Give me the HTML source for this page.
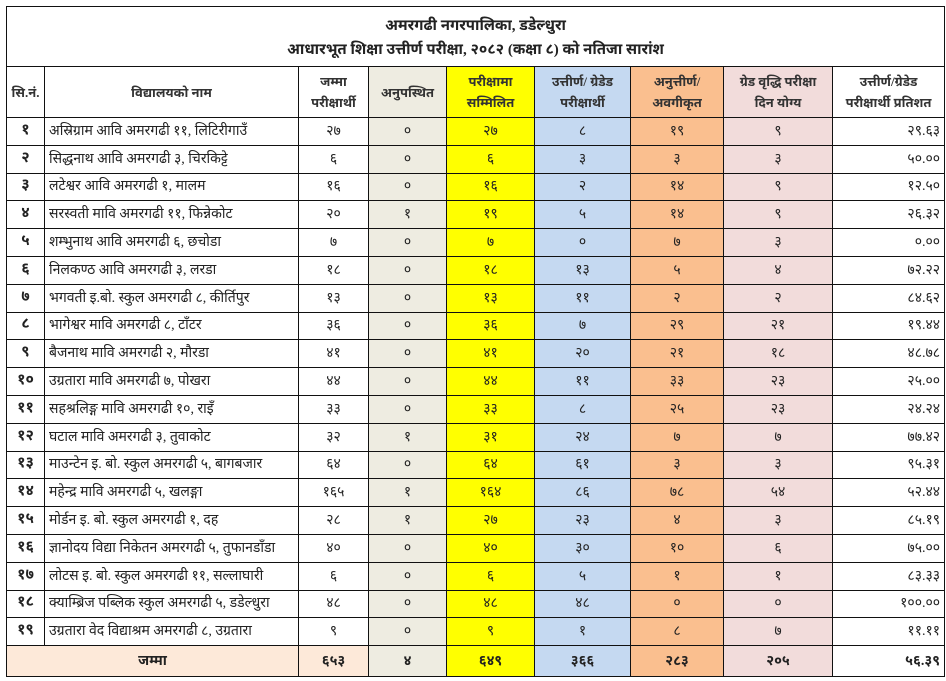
<!DOCTYPE html>
<html>
<head>
<meta charset="utf-8">
<style>
  html, body { margin:0; padding:0; background:#fff; }
  body { width:946px; height:681px; position:relative; overflow:hidden;
         font-family:"Liberation Serif","Noto Sans Devanagari","Lohit Devanagari","FreeSerif","DejaVu Sans",serif; color:#222; }
  table { position:absolute; left:6px; top:6px; border-collapse:collapse; table-layout:fixed; width:938px; }
  td { border:1px solid #111; padding:0; font-size:14px; text-align:center; vertical-align:middle; overflow:hidden; white-space:nowrap; }
  tr.title td { height:57px; font-weight:bold; font-size:15px; line-height:24px; padding-top:2px; }
  tr.head td { height:50px; font-size:13px; line-height:21px; font-weight:bold; color:#333; }
  tr.d td { height:26.8px; }
  tr.tot td { height:30px; font-weight:bold; }
  td.sn { font-weight:bold; font-size:15px; }
  td.nm { text-align:left; padding-left:4px; font-size:14px; }
  td.pc { text-align:right; padding-right:4px; }
  .c2 { background:#eeece1; }
  .c3 { background:#ffff00; }
  .c4 { background:#c5d9f1; }
  .c5 { background:#fabf8f; }
  .c6 { background:#f2dcdb; }
  .tl { background:#fde9d9; }
</style>
</head>
<body>
<table>
  <colgroup>
    <col style="width:38px"><col style="width:254px"><col style="width:70px"><col style="width:78px"><col style="width:88px"><col style="width:96px"><col style="width:93px"><col style="width:109px"><col style="width:112px">
  </colgroup>
  <tr class="title"><td colspan="9">अमरगढी नगरपालिका, डडेल्धुरा<br>आधारभूत शिक्षा उत्तीर्ण परीक्षा, २०८२ (कक्षा ८) को नतिजा सारांश</td></tr>
  <tr class="head">
    <td>सि.नं.</td>
    <td>विद्यालयको नाम</td>
    <td>जम्मा<br>परीक्षार्थी</td>
    <td class="c2">अनुपस्थित</td>
    <td class="c3">परीक्षामा<br>सम्मिलित</td>
    <td class="c4">उत्तीर्ण/ ग्रेडेड<br>परीक्षार्थी</td>
    <td class="c5">अनुत्तीर्ण/<br>अवगीकृत</td>
    <td class="c6">ग्रेड वृद्धि परीक्षा<br>दिन योग्य</td>
    <td>उत्तीर्ण/ग्रेडेड<br>परीक्षार्थी प्रतिशत</td>
  </tr>
  <tr class="d"><td class="sn">१</td><td class="nm">अस्रिग्राम आवि अमरगढी ११, लिटिरीगाउँ</td><td>२७</td><td class="c2">०</td><td class="c3">२७</td><td class="c4">८</td><td class="c5">१९</td><td class="c6">९</td><td class="pc">२९.६३</td></tr>
  <tr class="d"><td class="sn">२</td><td class="nm">सिद्धनाथ आवि अमरगढी ३, चिरकिट्टे</td><td>६</td><td class="c2">०</td><td class="c3">६</td><td class="c4">३</td><td class="c5">३</td><td class="c6">३</td><td class="pc">५०.००</td></tr>
  <tr class="d"><td class="sn">३</td><td class="nm">लटेश्वर आवि अमरगढी १, मालम</td><td>१६</td><td class="c2">०</td><td class="c3">१६</td><td class="c4">२</td><td class="c5">१४</td><td class="c6">९</td><td class="pc">१२.५०</td></tr>
  <tr class="d"><td class="sn">४</td><td class="nm">सरस्वती मावि अमरगढी ११, फिन्नेकोट</td><td>२०</td><td class="c2">१</td><td class="c3">१९</td><td class="c4">५</td><td class="c5">१४</td><td class="c6">९</td><td class="pc">२६.३२</td></tr>
  <tr class="d"><td class="sn">५</td><td class="nm">शम्भुनाथ आवि अमरगढी ६, छचोडा</td><td>७</td><td class="c2">०</td><td class="c3">७</td><td class="c4">०</td><td class="c5">७</td><td class="c6">३</td><td class="pc">०.००</td></tr>
  <tr class="d"><td class="sn">६</td><td class="nm">निलकण्ठ आवि अमरगढी ३, लरडा</td><td>१८</td><td class="c2">०</td><td class="c3">१८</td><td class="c4">१३</td><td class="c5">५</td><td class="c6">४</td><td class="pc">७२.२२</td></tr>
  <tr class="d"><td class="sn">७</td><td class="nm">भगवती इ.बो. स्कुल अमरगढी ८, कीर्तिपुर</td><td>१३</td><td class="c2">०</td><td class="c3">१३</td><td class="c4">११</td><td class="c5">२</td><td class="c6">२</td><td class="pc">८४.६२</td></tr>
  <tr class="d"><td class="sn">८</td><td class="nm">भागेश्वर मावि अमरगढी ८, टाँटर</td><td>३६</td><td class="c2">०</td><td class="c3">३६</td><td class="c4">७</td><td class="c5">२९</td><td class="c6">२१</td><td class="pc">१९.४४</td></tr>
  <tr class="d"><td class="sn">९</td><td class="nm">बैजनाथ मावि अमरगढी २, मौरडा</td><td>४१</td><td class="c2">०</td><td class="c3">४१</td><td class="c4">२०</td><td class="c5">२१</td><td class="c6">१८</td><td class="pc">४८.७८</td></tr>
  <tr class="d"><td class="sn">१०</td><td class="nm">उग्रतारा मावि अमरगढी ७, पोखरा</td><td>४४</td><td class="c2">०</td><td class="c3">४४</td><td class="c4">११</td><td class="c5">३३</td><td class="c6">२३</td><td class="pc">२५.००</td></tr>
  <tr class="d"><td class="sn">११</td><td class="nm">सहश्रलिङ्ग मावि अमरगढी १०, राइँ</td><td>३३</td><td class="c2">०</td><td class="c3">३३</td><td class="c4">८</td><td class="c5">२५</td><td class="c6">२३</td><td class="pc">२४.२४</td></tr>
  <tr class="d"><td class="sn">१२</td><td class="nm">घटाल मावि अमरगढी ३, तुवाकोट</td><td>३२</td><td class="c2">१</td><td class="c3">३१</td><td class="c4">२४</td><td class="c5">७</td><td class="c6">७</td><td class="pc">७७.४२</td></tr>
  <tr class="d"><td class="sn">१३</td><td class="nm">माउन्टेन इ. बो. स्कुल अमरगढी ५, बागबजार</td><td>६४</td><td class="c2">०</td><td class="c3">६४</td><td class="c4">६१</td><td class="c5">३</td><td class="c6">३</td><td class="pc">९५.३१</td></tr>
  <tr class="d"><td class="sn">१४</td><td class="nm">महेन्द्र मावि अमरगढी ५, खलङ्गा</td><td>१६५</td><td class="c2">१</td><td class="c3">१६४</td><td class="c4">८६</td><td class="c5">७८</td><td class="c6">५४</td><td class="pc">५२.४४</td></tr>
  <tr class="d"><td class="sn">१५</td><td class="nm">मोर्डन इ. बो. स्कुल अमरगढी १, दह</td><td>२८</td><td class="c2">१</td><td class="c3">२७</td><td class="c4">२३</td><td class="c5">४</td><td class="c6">३</td><td class="pc">८५.१९</td></tr>
  <tr class="d"><td class="sn">१६</td><td class="nm">ज्ञानोदय विद्या निकेतन अमरगढी ५, तुफानडाँडा</td><td>४०</td><td class="c2">०</td><td class="c3">४०</td><td class="c4">३०</td><td class="c5">१०</td><td class="c6">६</td><td class="pc">७५.००</td></tr>
  <tr class="d"><td class="sn">१७</td><td class="nm">लोटस इ. बो. स्कुल अमरगढी ११, सल्लाघारी</td><td>६</td><td class="c2">०</td><td class="c3">६</td><td class="c4">५</td><td class="c5">१</td><td class="c6">१</td><td class="pc">८३.३३</td></tr>
  <tr class="d"><td class="sn">१८</td><td class="nm">क्याम्ब्रिज पब्लिक स्कुल अमरगढी ५, डडेल्धुरा</td><td>४८</td><td class="c2">०</td><td class="c3">४८</td><td class="c4">४८</td><td class="c5">०</td><td class="c6">०</td><td class="pc">१००.००</td></tr>
  <tr class="d"><td class="sn">१९</td><td class="nm">उग्रतारा वेद विद्याश्रम अमरगढी ८, उग्रतारा</td><td>९</td><td class="c2">०</td><td class="c3">९</td><td class="c4">१</td><td class="c5">८</td><td class="c6">७</td><td class="pc">११.११</td></tr>
  <tr class="tot"><td colspan="2" class="tl">जम्मा</td><td class="tl">६५३</td><td class="c2">४</td><td class="c3">६४९</td><td class="c4">३६६</td><td class="c5">२८३</td><td class="c6">२०५</td><td class="pc">५६.३९</td></tr>
</table>
</body>
</html>
